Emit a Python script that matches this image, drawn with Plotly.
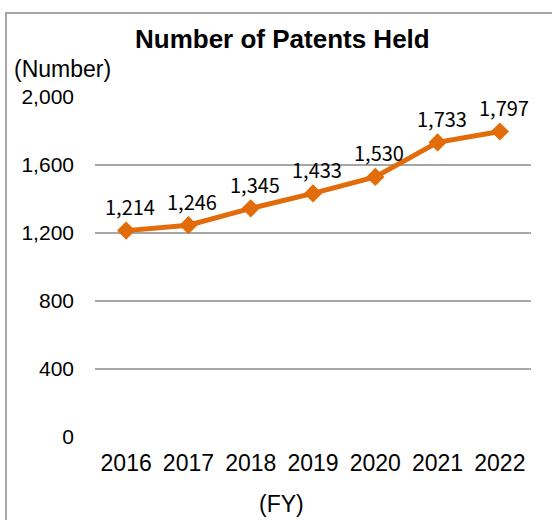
import plotly.graph_objects as go

years = ["2016", "2017", "2018", "2019", "2020", "2021", "2022"]
patents = [1214, 1246, 1345, 1433, 1530, 1733, 1797]
y_ticks = [0, 400, 800, 1200, 1600, 2000]
y_tick_text = ["0", "400", "800", "1,200", "1,600", "2,000"]

W, H = 552, 520
L, R, T, B = 95, 21, 97, 83
pw, ph = W - L - R, H - T - B

def px_x(x):
    return (x - L) / pw

def px_y(y):
    return (H - B - y) / ph

ORANGE = "#E26B0A"

fig = go.Figure()
fig.add_trace(go.Scatter(
    x=years, y=patents,
    mode="lines+markers",
    line=dict(color=ORANGE, width=5),
    marker=dict(symbol="diamond", size=14, color=ORANGE),
    cliponaxis=False,
    showlegend=False,
    hoverinfo="x+y",
))

label_annotations = [
    dict(x=i, y=v, xref="x", yref="y", text=f"{v:,}", showarrow=False,
         xanchor="center", yanchor="middle", xshift=4, yshift=24,
         font=dict(family="Noto Sans CJK JP", size=20, color="#000000"))
    for i, v in enumerate(patents)
]

fig.update_layout(
    width=W, height=H,
    margin=dict(l=L, r=R, t=T, b=B, pad=0),
    paper_bgcolor="white", plot_bgcolor="white",
    font=dict(family="Liberation Sans, Arial", size=21, color="#000000"),
    xaxis=dict(
        type="category", range=[-0.5, 6.5],
        showgrid=False, showline=False, zeroline=False,
        ticks="", tickfont=dict(size=23), ticklabelstandoff=10,
    ),
    yaxis=dict(
        range=[0, 2000], tickvals=y_ticks, ticktext=y_tick_text,
        showgrid=True, gridcolor="#A6A6A6", gridwidth=1.5,
        zeroline=False, showline=False, ticks="",
        tickfont=dict(size=21), ticklabelstandoff=20,
    ),
    annotations=[
        dict(text="<b>Number of Patents Held</b>", xref="paper", yref="paper",
             x=px_x(282), y=px_y(39), xanchor="center", yanchor="middle",
             showarrow=False, font=dict(size=26, color="#000000")),
        dict(text="(Number)", xref="paper", yref="paper",
             x=px_x(12), y=px_y(69), xanchor="left", yanchor="middle",
             showarrow=False, font=dict(size=23, color="#000000")),
        dict(text="(FY)", xref="paper", yref="paper",
             x=px_x(281), y=px_y(504), xanchor="center", yanchor="middle",
             showarrow=False, font=dict(size=23, color="#000000")),
    ] + label_annotations,
    shapes=[
        dict(type="rect", xref="paper", yref="paper",
             x0=px_x(6), y0=px_y(560), x1=px_x(600), y1=px_y(13),
             line=dict(color="#A6A6A6", width=2), layer="below"),
    ],
)

fig.write_html("out.html", config={"displayModeBar": False},
               post_script="document.body.style.margin='0px';")
